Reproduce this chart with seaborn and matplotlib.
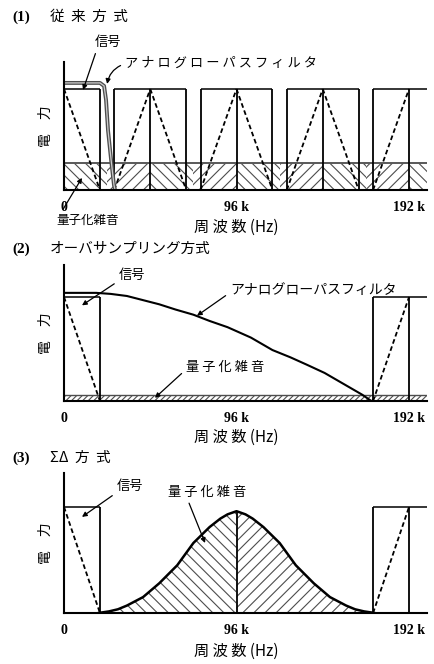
import matplotlib
matplotlib.use("Agg")
import matplotlib.pyplot as plt
import numpy as np
import pandas as pd
import seaborn as sns

# ---------------- values ----------------
# frequency in kHz, power in units where the signal level = 100
signal_band = [0, 20]
signal_level = 100
axis_end = 202
freq_ticks = [0, 96, 192]
freq_tick_labels = ["0", "96 k", "192 k"]
image_halfwidth = 20

# (1) conventional system (fs = 48 kHz)
images_1 = [48, 96, 144, 192]
noise_level_1 = 27
fold_edges_1 = [0, 24, 48, 72, 96, 120, 144, 168, 192, 202]
lpf1_freq = [0, 20, 22.3, 23.4, 24.5, 26.2, 27.8, 28.4]
lpf1_level = [106, 106, 103, 89, 59, 30, 5, 0]

# (2) oversampling system
images_2 = [192]
noise_level_2 = 6
lpf2_freq = [0, 18, 26, 35, 44, 53, 62, 72, 81, 91, 104, 116, 126, 135, 145, 154, 161, 166, 171]
lpf2_level = [104, 104, 103, 101, 97, 93, 88, 83, 77, 71, 61, 49, 42, 35, 27, 18, 11, 6, 0]

# (3) sigma-delta system
images_3 = [192]
noise3_freq = [19, 25, 30, 35, 44, 53, 63, 72, 81, 87, 91, 96,
               101, 105, 111, 120, 129, 139, 148, 157, 162, 167, 173]
noise3_level = [0, 1.5, 3.5, 7, 15, 28, 45, 66, 81, 89, 93, 96,
                93, 89, 81, 66, 45, 28, 15, 7, 3.5, 1.5, 0]
noise3_peak = 96

ylims = [126.7, 130.8, 132.0]

# ---------------- style ----------------
sns.set_theme(style="white")
JP = ["Noto Sans CJK JP", "DejaVu Sans"]
SERIF = ["Liberation Serif", "DejaVu Serif"]
plt.rcParams["font.family"] = JP
plt.rcParams["hatch.linewidth"] = 0.8
DASH = (0, (2.6, 1.6))
LW = 1.3

fig = plt.figure(figsize=(4.34, 6.64), dpi=100)
fig.patch.set_facecolor("white")

W, H = 434.0, 664.0
left = 64 / W
width = (427 - 64) / W
boxes = [(62, 190), (265, 401), (473, 613)]
axes = []
for (top, base), ytop in zip(boxes, ylims):
    ax = fig.add_axes([left, 1 - base / H, width, (base - top) / H])
    ax.set_xlim(0, axis_end)
    ax.set_ylim(0, ytop)
    ax.set_facecolor("white")
    sns.despine(ax=ax)
    for s in ("left", "bottom"):
        ax.spines[s].set_color("black")
        ax.spines[s].set_linewidth(1.5)
    ax.set_yticks([])
    ax.set_xticks(freq_ticks)
    ax.set_xticklabels(freq_tick_labels, family=SERIF, fontweight="bold", fontsize=10)
    ax.tick_params(axis="x", length=0, pad=8, colors="black")
    ax.set_ylabel("電\u3000力", fontsize=10, labelpad=8, color="black")
    axes.append(ax)

ax1, ax2, ax3 = axes


def draw_signal(ax):
    ax.vlines(signal_band[1], 0, signal_level, color="black", lw=LW)
    ax.hlines(signal_level, signal_band[0], signal_band[1], color="black", lw=1.1)
    ax.plot(signal_band, [signal_level, 0], ls=DASH, color="black", lw=LW)


def draw_images(ax, centers):
    for c in centers:
        lo, hi = c - image_halfwidth, c + image_halfwidth
        ax.vlines([lo, c], 0, signal_level, color="black", lw=LW)
        ax.hlines(signal_level, lo, min(hi, axis_end), color="black", lw=1.1)
        ax.plot([lo, c], [0, signal_level], ls=DASH, color="black", lw=LW)
        if hi <= axis_end:
            ax.vlines(hi, 0, signal_level, color="black", lw=LW)
            ax.plot([c, hi], [signal_level, 0], ls=DASH, color="black", lw=LW)


def note(ax, text, xytext, xy, fs=9.5, ha="center", rel=(0.5, 0.5), rad=0.0):
    ax.annotate(text, xy=xy, xytext=xytext, ha=ha, va="center", fontsize=fs,
                color="black", annotation_clip=False,
                arrowprops=dict(arrowstyle="-|>", color="black", lw=0.9,
                                mutation_scale=7, shrinkA=1, shrinkB=0,
                                relpos=rel, connectionstyle=f"arc3,rad={rad}"))


def xlabel(ax, y):
    ax.text(96, y, "周 波 数 (Hz)", ha="center", va="center", fontsize=11,
            color="black", clip_on=False)


# ---------------- (1) conventional ----------------
for i, (a, b) in enumerate(zip(fold_edges_1[:-1], fold_edges_1[1:])):
    ax1.fill_between([a, b], 0, noise_level_1, facecolor="none", edgecolor="0.3",
                     hatch="\\\\\\" if i % 2 == 0 else "///", lw=0)
ax1.hlines(noise_level_1, 0, axis_end, color="0.35", lw=1.4)
draw_signal(ax1)
draw_images(ax1, images_1)
lpf1 = pd.DataFrame({"f": lpf1_freq, "p": lpf1_level})
sns.lineplot(data=lpf1, x="f", y="p", ax=ax1, color="0.3", lw=2.8, estimator=None, sort=False)
sns.lineplot(data=lpf1, x="f", y="p", ax=ax1, color="0.8", lw=0.9, estimator=None, sort=False)
note(ax1, "信号", (24.5, 146), (10.6, 99), rel=(0.1, 0.1))
note(ax1, "ア ナ ロ グ ロ ー パ ス フ ィ ル タ", (34, 125), (24, 105), ha="left",
     rel=(0, 0.5), rad=0.3)
note(ax1, "量子化雑音", (13.4, -30), (10, 12), fs=9, rel=(0.05, 0.95))
xlabel(ax1, -36.5)

# ---------------- (2) oversampling ----------------
ax2.fill_between([0, axis_end], 0, noise_level_2, facecolor="none", edgecolor="0.3",
                 hatch="//////", lw=0)
ax2.hlines(noise_level_2, 0, axis_end, color="0.3", lw=1.0)
draw_signal(ax2)
draw_images(ax2, images_2)
lpf2 = pd.DataFrame({"f": lpf2_freq, "p": lpf2_level})
sns.lineplot(data=lpf2, x="f", y="p", ax=ax2, color="black", lw=1.5, estimator=None, sort=False)
note(ax2, "信号", (37.8, 121), (10, 92), rel=(0.1, 0.2))
note(ax2, "アナログローパスフィルタ", (92.4, 107), (74, 82), fs=10, ha="left", rel=(0, 0.3))
note(ax2, "量 子 化 雑 音", (89.6, 32.7), (50.6, 3), rel=(0.0, 0.3))
xlabel(ax2, -34.5)

# ---------------- (3) sigma-delta ----------------
n3 = pd.DataFrame({"f": noise3_freq, "p": noise3_level})
k = noise3_freq.index(96)
ax3.fill_between(noise3_freq[:k + 1], 0, noise3_level[:k + 1], facecolor="none",
                 edgecolor="0.3", hatch="\\\\\\", lw=0)
ax3.fill_between(noise3_freq[k:], 0, noise3_level[k:], facecolor="none",
                 edgecolor="0.3", hatch="///", lw=0)
sns.lineplot(data=n3, x="f", y="p", ax=ax3, color="black", lw=1.8, estimator=None, sort=False)
ax3.vlines(96, 0, noise3_peak, color="black", lw=LW)
draw_signal(ax3)
draw_images(ax3, images_3)
note(ax3, "信号", (36.7, 119), (10, 90.6), rel=(0.1, 0.2))
note(ax3, "量 子 化 雑 音", (79.6, 114), (78.5, 66), rel=(0.24, 0.1))
xlabel(ax3, -36)

for ax in axes:
    ax.set_xlabel("")

# ---------------- panel titles ----------------
titles = [("(1)", "従  来  方  式", 17), ("(2)", "オーバサンプリング方式", 249),
          ("(3)", "ΣΔ  方  式", 458)]
for num, name, ypx in titles:
    fig.text(12 / W, 1 - ypx / H, num, family=SERIF, fontweight="bold",
             fontsize=11, va="center", ha="left", color="black")
    fig.text(50 / W, 1 - ypx / H, name, fontsize=10.5, va="center", ha="left",
             color="black")

fig.savefig("out.png", dpi=100, facecolor="white")
